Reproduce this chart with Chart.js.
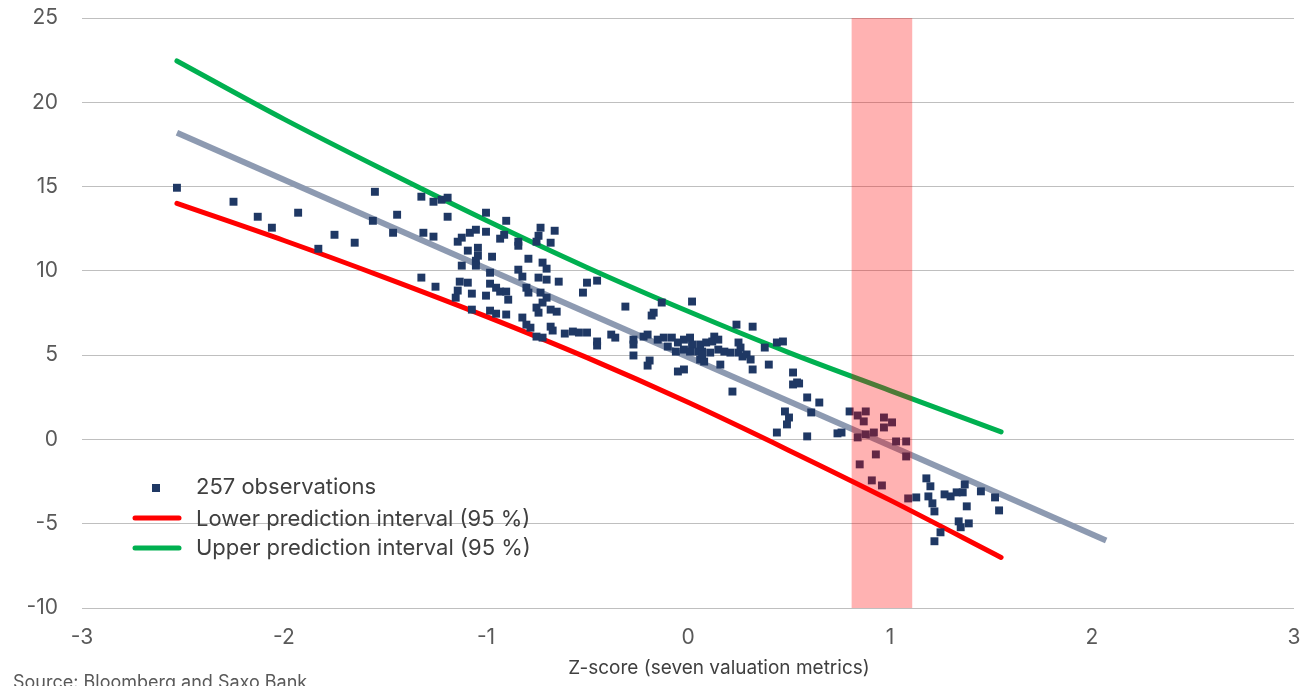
<!DOCTYPE html>
<html><head><meta charset="utf-8">
<script src="https://cdn.jsdelivr.net/npm/chart.js@4/dist/chart.umd.min.js"></script>
<style>html,body{margin:0;padding:0;background:#fff;overflow:hidden}canvas{display:block}</style>
</head><body>
<canvas id="c" width="1304" height="686"></canvas>
<script>
const obsX = [-2.53,-2.25,-2.13,-2.06,-1.93,-1.83,-1.75,-1.65,-1.55,-1.56,-1.44,-1.46,-1.32,-1.26,-1.22,-1.19,-1.19,-1.31,-1.26,-1.32,-1.25,
-1.00,-0.90,-1.14,-1.12,-1.08,-1.05,-1.00,-1.09,-1.04,-1.04,-1.05,-1.05,-1.12,-0.97,-0.93,-0.91,-0.84,-0.84,-0.79,-0.73,-0.74,-0.75,-0.66,-0.68,-0.72,-0.70,-0.84,-0.82,-0.98,
-1.13,-1.09,-1.14,-1.15,-1.07,-1.00,-0.98,-0.95,-0.93,-0.90,-0.89,-0.80,-0.79,-0.74,-0.70,-0.64,-0.50,-0.45,-0.52,
-1.07,-0.98,-0.95,-0.90,-0.82,-0.80,-0.78,-0.75,-0.72,-0.70,-0.73,-0.74,-0.68,-0.65,-0.68,-0.67,-0.75,-0.72,-0.61,-0.57,-0.54,-0.50,-0.45,-0.45,
-0.38,-0.36,-0.27,-0.27,-0.27,-0.22,-0.20,-0.19,-0.20,-0.31,-0.13,0.02,-0.17,-0.18,-0.15,-0.12,-0.08,-0.05,-0.02,0.01,0.02,0.06,0.09,0.13,0.12,0.15,
-0.10,-0.06,-0.02,0.01,0.05,0.07,0.11,0.15,0.18,0.21,0.25,0.26,0.25,0.27,0.29,0.31,0.06,0.08,0.16,0.07,-0.05,-0.02,0.32,0.40,0.38,0.24,0.32,0.44,0.47,
0.52,0.54,0.52,0.55,0.59,0.65,0.48,0.50,0.49,0.61,0.44,0.59,0.74,0.76,0.22,0.80,0.84,0.88,0.87,0.97,1.01,0.97,0.84,0.88,0.92,1.03,1.08,1.08,0.93,0.85,0.91,0.96,
1.09,1.13,1.18,1.20,1.19,1.21,1.22,1.27,1.30,1.33,1.36,1.37,1.45,1.52,1.54,1.38,1.34,1.35,1.39,1.25,1.22];
const obsY = [14.93,14.10,13.21,12.56,13.45,11.31,12.14,11.67,14.69,12.97,13.33,12.26,14.40,14.10,14.22,14.34,13.21,12.26,12.03,9.60,9.06,
13.45,12.97,11.73,11.97,12.26,12.44,12.32,11.20,11.37,10.90,10.60,10.31,10.31,10.84,11.91,12.14,11.73,11.49,10.72,12.56,12.08,11.73,12.38,11.67,10.49,10.13,10.07,9.66,9.89,
9.36,9.30,8.83,8.41,8.65,8.53,9.24,9.00,8.77,8.77,8.29,9.00,8.71,9.60,9.48,9.36,9.30,9.42,8.71,
7.70,7.64,7.46,7.41,7.23,6.81,6.63,7.82,8.12,8.41,8.71,7.52,7.70,7.58,6.69,6.46,6.10,6.04,6.28,6.40,6.34,6.34,5.81,5.57,
6.22,6.04,5.92,5.63,4.98,6.10,6.22,4.68,4.38,7.88,8.12,8.18,7.52,7.35,5.92,6.04,6.04,5.75,5.92,6.04,5.63,5.63,5.75,6.10,5.81,5.92,
5.51,5.21,5.33,5.21,5.21,5.21,5.15,5.33,5.21,5.15,5.75,5.45,5.15,4.92,5.04,4.74,4.74,4.62,4.44,5.04,4.03,4.15,4.15,4.44,5.45,6.81,6.69,5.75,5.81,
3.97,3.38,3.26,3.32,2.49,2.19,1.66,1.30,0.89,1.60,0.41,0.18,0.36,0.41,2.84,1.66,1.42,1.66,1.07,1.30,1.01,0.71,0.12,0.30,0.41,-0.12,-0.12,-1.01,-0.89,-1.48,-2.43,-2.73,
-3.50,-3.44,-2.31,-2.78,-3.38,-3.79,-4.27,-3.26,-3.38,-3.14,-3.14,-2.67,-3.08,-3.44,-4.21,-3.97,-4.86,-5.21,-4.98,-5.51,-6.04];

const fitX = [-2.53, 2.07];
const fitY = [18.2, -6.0];
const bandX  = [-2.53, -2.0, -1.5, -1.0, -0.5, 0, 0.5, 1.0, 1.55];
const lowerY = [14.0, 11.8, 9.6, 7.3, 4.85, 2.2, -0.65, -3.6, -7.0];
const upperY = [22.45, 19.0, 15.95, 13.0, 10.2, 7.6, 5.15, 2.9, 0.45];
const highlightX = [0.81, 1.11];
const xTicks = [-3, -2, -1, 0, 1, 2, 3];
const yTicks = [-10, -5, 0, 5, 10, 15, 20, 25];
const legendLabels = ['257 observations', 'Lower prediction interval (95 %)', 'Upper prediction interval (95 %)'];
const xTitle = 'Z-score (seven valuation metrics)';
const sourceText = 'Source: Bloomberg and Saxo Bank';

const NAVY = '#1F3864', RED = '#FF0000', GREEN = '#00B050', GREY = '#8D9AB1';
const FONT = 'Inter, "Open Sans", sans-serif';

const zip = (xs, ys) => xs.map((x, i) => ({x, y: ys[i]}));

const overlay = {
  id: 'overlay',
  afterDatasetsDraw(chart) {
    const {ctx, scales: {x, y}} = chart;
    const x0 = x.getPixelForValue(highlightX[0]), x1 = x.getPixelForValue(highlightX[1]);
    const yt = y.getPixelForValue(y.max), yb = y.getPixelForValue(y.min);
    ctx.save();
    ctx.fillStyle = 'rgba(255,0,0,0.3)';
    ctx.fillRect(x0, yt, x1 - x0, yb - yt);
    ctx.restore();
  },
  afterDraw(chart) {
    const {ctx} = chart;
    ctx.save();
    ctx.font = '22px ' + FONT;
    ctx.fillStyle = '#404040';
    ctx.textBaseline = 'middle';
    ctx.textAlign = 'left';
    const ly = [487, 519, 548];
    legendLabels.forEach((t, i) => ctx.fillText(t, 196, ly[i]));
    ctx.fillStyle = NAVY;
    ctx.fillRect(152, 484, 8, 8);
    ctx.lineCap = 'round';
    ctx.lineWidth = 5;
    ctx.strokeStyle = RED;
    ctx.beginPath(); ctx.moveTo(135, 518); ctx.lineTo(179, 518); ctx.stroke();
    ctx.strokeStyle = GREEN;
    ctx.beginPath(); ctx.moveTo(135, 548); ctx.lineTo(179, 548); ctx.stroke();
    ctx.fillStyle = '#404040';
    ctx.font = '19px ' + FONT;
    ctx.textAlign = 'center';
    ctx.fillText(xTitle, 719, 668);
    ctx.fillStyle = '#595959';
    ctx.font = '18px ' + FONT;
    ctx.textAlign = 'left';
    ctx.textBaseline = 'alphabetic';
    ctx.fillText(sourceText, 13, 688);
    ctx.restore();
  }
};

new Chart(document.getElementById('c'), {
  type: 'scatter',
  data: {
    datasets: [
      {label: legendLabels[0], data: zip(obsX, obsY), backgroundColor: NAVY, borderWidth: 0,
       pointStyle: 'rect', pointRadius: 5.6, pointHoverRadius: 5.6, order: 0},
      {label: 'Fit', type: 'line', data: zip(fitX, fitY), borderColor: GREY, borderWidth: 6,
       pointRadius: 0, fill: false, order: 1},
      {label: legendLabels[1], type: 'line', data: zip(bandX, lowerY), borderColor: RED, borderWidth: 5,
       pointRadius: 0, fill: false, cubicInterpolationMode: 'monotone', borderCapStyle: 'round', order: 2},
      {label: legendLabels[2], type: 'line', data: zip(bandX, upperY), borderColor: GREEN, borderWidth: 5,
       pointRadius: 0, fill: false, cubicInterpolationMode: 'monotone', borderCapStyle: 'round', order: 2}
    ]
  },
  options: {
    responsive: false,
    devicePixelRatio: 1,
    animation: false,
    layout: {padding: {left: 0, right: 10, top: 18, bottom: 0}},
    plugins: {legend: {display: false}, tooltip: {enabled: false}},
    scales: {
      x: {
        type: 'linear', min: -3, max: 3,
        afterBuildTicks: s => { s.ticks = xTicks.map(v => ({value: v})); },
        afterFit: s => { s.height = 78; s.paddingLeft = 0; s.paddingRight = 0; },
        grid: {display: false, drawTicks: false},
        border: {display: false},
        ticks: {font: {family: FONT, size: 21}, color: '#595959', padding: 17, maxRotation: 0}
      },
      y: {
        min: -10, max: 25,
        afterBuildTicks: s => { s.ticks = yTicks.map(v => ({value: v})); },
        afterFit: s => { s.width = 82; s.paddingTop = 0; s.paddingBottom = 0; },
        grid: {color: '#BFBFBF', lineWidth: 1, drawTicks: false},
        border: {display: false},
        ticks: {font: {family: FONT, size: 21}, color: '#595959', padding: 24}
      }
    }
  },
  plugins: [overlay]
});
</script>
</body></html>
